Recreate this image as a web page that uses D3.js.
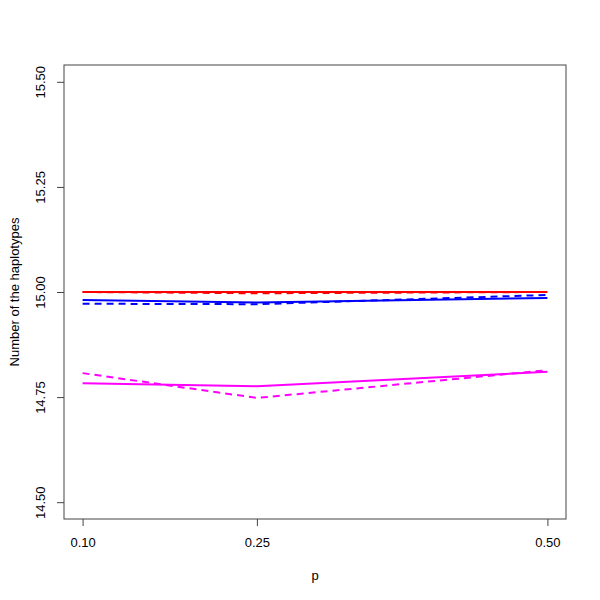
<!DOCTYPE html>
<html>
<head>
<meta charset="utf-8">
<script src="https://cdn.jsdelivr.net/npm/d3@7"></script>
<style>
  body { margin: 0; background: #fff; }
  svg text { font-family: "Liberation Sans", Arial, sans-serif; font-size: 13px; fill: #000; }
</style>
</head>
<body>
<svg id="chart" width="600" height="600"></svg>
<script>
// x values (p)
const pValues = [0.10, 0.25, 0.50];
const xTickLabels = ["0.10", "0.25", "0.50"];
const yTicks = [14.50, 14.75, 15.00, 15.25, 15.50];

// series
const redSolid = [15.000, 15.000, 15.000];
const redDashed = [15.000, 14.997, 15.000];
const blueSolid = [14.981, 14.975, 14.986];
const blueDashed = [14.972, 14.971, 14.993];
const magentaSolid = [14.783, 14.776, 14.810];
const magentaDashed = [14.807, 14.748, 14.814];

const series = [
    { values: redSolid, color: "#ff0000", dashed: false },
    { values: redDashed, color: "#ff0000", dashed: true },
    { values: blueSolid, color: "#0000ff", dashed: false },
    { values: blueDashed, color: "#0000ff", dashed: true },
    { values: magentaSolid, color: "#ff00ff", dashed: false },
    { values: magentaDashed, color: "#ff00ff", dashed: true }
];

const svg = d3.select("#chart");

// plot region (R style box)
const plotLeft = 64, plotRight = 566, plotTop = 65, plotBottom = 519;

// R extends the axis range by 4% on each side
const xPad = (0.50 - 0.10) * 0.04;
const yPad = (15.50 - 14.50) * 0.04;
const x = d3.scaleLinear().domain([0.10 - xPad, 0.50 + xPad]).range([plotLeft, plotRight]);
const y = d3.scaleLinear().domain([14.50 - yPad, 15.50 + yPad]).range([plotBottom, plotTop]);

// lines
const line = d3.line()
    .x((d, i) => x(pValues[i]))
    .y(d => y(d));

series.forEach(s => {
    svg.append("path")
        .datum(s.values)
        .attr("d", line)
        .attr("fill", "none")
        .attr("stroke", s.color)
        .attr("stroke-width", 2)
        .attr("stroke-dasharray", s.dashed ? "7,5" : null);
});

// box
svg.append("rect")
    .attr("x", plotLeft)
    .attr("y", plotTop)
    .attr("width", plotRight - plotLeft)
    .attr("height", plotBottom - plotTop)
    .attr("fill", "none")
    .attr("stroke", "#444")
    .attr("stroke-width", 1);

// x axis
const xAxis = d3.axisBottom(x)
    .tickValues(pValues)
    .tickFormat((d, i) => xTickLabels[i])
    .tickSize(7)
    .tickPadding(12);
const gx = svg.append("g")
    .attr("transform", `translate(0,${plotBottom})`)
    .call(xAxis);
gx.select(".domain").remove();
gx.selectAll(".tick line").attr("stroke", "#444");
gx.selectAll(".tick text")
    .style("font-family", "'Liberation Sans', Arial, sans-serif")
    .style("font-size", "13px")
    .attr("fill", "#000");

// y axis with rotated labels
const yAxis = d3.axisLeft(y)
    .tickValues(yTicks)
    .tickFormat(d3.format(".2f"))
    .tickSize(7)
    .tickPadding(0);
const gy = svg.append("g")
    .attr("transform", `translate(${plotLeft},0)`)
    .call(yAxis);
gy.select(".domain").remove();
gy.selectAll(".tick line").attr("stroke", "#444");
gy.selectAll(".tick text")
    .attr("x", 0)
    .attr("dy", null)
    .attr("transform", "translate(-22,0) rotate(-90)")
    .attr("text-anchor", "middle")
    .attr("dominant-baseline", "middle")
    .style("font-family", "'Liberation Sans', Arial, sans-serif")
    .style("font-size", "13px")
    .attr("fill", "#000");

// axis titles
svg.append("text")
    .attr("x", (plotLeft + plotRight) / 2)
    .attr("y", 580)
    .attr("text-anchor", "middle")
    .text("p");

svg.append("text")
    .attr("transform", `translate(19,${(plotTop + plotBottom) / 2}) rotate(-90)`)
    .attr("text-anchor", "middle")
    .text("Number of the haplotypes");
</script>
</body>
</html>
